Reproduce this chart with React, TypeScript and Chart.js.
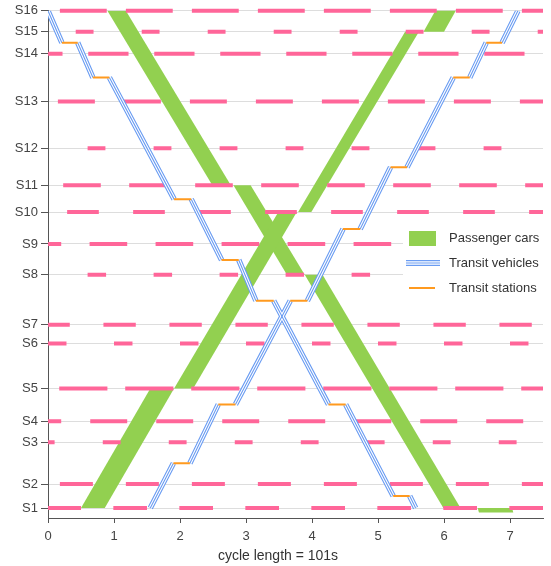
import React, { useEffect, useRef } from 'react';
import { Chart, registerables } from 'chart.js';

Chart.register(...registerables);

const FONT = '"Liberation Sans", Arial, Helvetica, sans-serif';

// Stations (signalised intersections) and their positions along the corridor
const stationNames = ['S1', 'S2', 'S3', 'S4', 'S5', 'S6', 'S7', 'S8', 'S9', 'S10', 'S11', 'S12', 'S13', 'S14', 'S15', 'S16'];
const stationPos = [0, 24, 66, 87, 120, 165, 184, 234, 265, 297, 324, 361, 408, 456, 478, 499];

// Red phase per station: offset and duration, in cycles (cycle length = 101 s)
const redOffset = [-0.01, 0.18, 0.83, 0.64, 0.17, 0.0, 0.84, 0.6, 0.63, 0.29, 0.23, 0.6, 0.15, 0.61, 0.42, 0.18];
const redLength = [0.51, 0.5, 0.27, 0.56, 0.73, 0.28, 0.49, 0.28, 0.57, 0.48, 0.57, 0.27, 0.56, 0.61, 0.27, 0.71];

const xTicks = [0, 1, 2, 3, 4, 5, 6, 7];
const X_MAX = 7.5;
const Y_MIN = -10;
const Y_MAX = 499;

// Passenger car green band, inbound (S1 -> S16)
const upBandYBottom = [0, 120, 297, 478];
const upBandYTop = [120, 297, 478, 504];
const upBandBottomLeft = [0.5, 1.91, 3.79, 5.69];
const upBandBottomRight = [0.86, 2.2, 3.99, 6.0];
const upBandTopLeft = [1.55, 3.49, 5.41, 5.91];
const upBandTopRight = [1.91, 3.77, 5.62, 6.22];

// Passenger car green band, outbound (S16 -> S1)
const downBandYTop = [499, 324, 234, 0];
const downBandYBottom = [324, 234, 0, -4.5];
const downBandTopLeft = [0.9, 2.81, 3.89, 6.51];
const downBandTopRight = [1.18, 3.07, 4.16, 7.03];
const downBandBottomLeft = [2.49, 3.62, 5.99, 6.53];
const downBandBottomRight = [2.77, 3.89, 6.25, 7.05];

// Transit vehicle, outbound
const downStart = { x: 0, y: 499 };
const downDwellY = [467, 432, 310, 249, 208, 104, 12];
const downDwellIn = [0.21, 0.68, 1.91, 2.63, 3.15, 4.25, 5.23];
const downDwellOut = [0.45, 0.93, 2.17, 2.89, 3.42, 4.51, 5.48];
const downEnd = { x: 5.57, y: 0 };

// Transit vehicle, inbound
const upStart = { x: 1.55, y: 0 };
const upDwellY = [45, 104, 208, 280, 342, 432, 467];
const upDwellIn = [1.9, 2.58, 3.67, 4.47, 5.19, 6.14, 6.64];
const upDwellOut = [2.15, 2.84, 3.93, 4.73, 5.44, 6.39, 6.88];
const upEnd = { x: 7.12, y: 499 };

const GREEN = '#92d050';
const RED = '#ff6699';
const BLUE = '#6a9cf2';
const ORANGE = '#ff9a1f';

type P = { x: number; y: number | null };

function redBars(): P[] {
  const pts: P[] = [];
  stationPos.forEach((y, i) => {
    for (let k = -1; k <= 8; k++) {
      const s = Math.max(redOffset[i] + k, 0);
      const e = Math.min(redOffset[i] + k + redLength[i], X_MAX);
      if (e > s) {
        pts.push({ x: s, y }, { x: e, y }, { x: e, y: null });
      }
    }
  });
  return pts;
}

function vehiclePath(start: P, dy: number[], din: number[], dout: number[], end: P): P[] {
  const pts: P[] = [start];
  dy.forEach((y, i) => {
    pts.push({ x: din[i], y }, { x: din[i], y: null }, { x: dout[i], y });
  });
  pts.push(end);
  return pts;
}

function dwellPath(dy: number[], din: number[], dout: number[]): P[] {
  const pts: P[] = [];
  dy.forEach((y, i) => {
    pts.push({ x: din[i], y }, { x: dout[i], y }, { x: dout[i], y: null });
  });
  return pts;
}

const common = {
  pointRadius: 0,
  pointHoverRadius: 0,
  tension: 0,
  spanGaps: false,
};

function bandDatasets(): any[] {
  const ds: any[] = [];
  upBandYBottom.forEach((yb, i) => {
    const yt = upBandYTop[i];
    ds.push({
      ...common,
      data: [
        { x: upBandBottomLeft[i], y: yb },
        { x: upBandBottomRight[i], y: yb },
        { x: upBandTopRight[i], y: yt },
        { x: upBandTopLeft[i], y: yt },
        { x: upBandBottomLeft[i], y: yb },
      ],
      borderWidth: 0,
      borderColor: GREEN,
      backgroundColor: GREEN,
      fill: 'shape',
      clip: false,
      order: 10,
    });
  });
  downBandYTop.forEach((yt, i) => {
    const yb = downBandYBottom[i];
    ds.push({
      ...common,
      data: [
        { x: downBandTopLeft[i], y: yt },
        { x: downBandTopRight[i], y: yt },
        { x: downBandBottomRight[i], y: yb },
        { x: downBandBottomLeft[i], y: yb },
        { x: downBandTopLeft[i], y: yt },
      ],
      borderWidth: 0,
      borderColor: GREEN,
      backgroundColor: GREEN,
      fill: 'shape',
      clip: false,
      order: 10,
    });
  });
  return ds;
}

function vehicleDatasets(): any[] {
  const paths = [
    vehiclePath(downStart, downDwellY, downDwellIn, downDwellOut, downEnd),
    vehiclePath(upStart, upDwellY, upDwellIn, upDwellOut, upEnd),
  ];
  const layers = [
    { color: BLUE, width: 5.5, order: 6 },
    { color: '#ffffff', width: 3.3, order: 5 },
    { color: BLUE, width: 1.1, order: 4 },
  ];
  const ds: any[] = [];
  layers.forEach((l) => {
    paths.forEach((p) => {
      ds.push({
        ...common,
        data: p,
        borderColor: l.color,
        borderWidth: l.width,
        borderCapStyle: 'butt',
        fill: false,
        order: l.order,
      });
    });
  });
  return ds;
}

const overlayPlugin = {
  id: 'overlay',
  afterDatasetsDraw(chart: any) {
    const ctx = chart.ctx as CanvasRenderingContext2D;
    ctx.save();
    // legend
    ctx.fillStyle = '#ffffff';
    ctx.fillRect(403, 221, 146, 78);
    ctx.fillStyle = GREEN;
    ctx.fillRect(409, 231, 27, 15);
    const drawLine = (x1: number, x2: number, y: number, c: string, w: number) => {
      ctx.beginPath();
      ctx.strokeStyle = c;
      ctx.lineWidth = w;
      ctx.lineCap = 'butt';
      ctx.moveTo(x1, y);
      ctx.lineTo(x2, y);
      ctx.stroke();
    };
    drawLine(406, 440, 263, BLUE, 6);
    drawLine(406, 440, 263, '#ffffff', 3.6);
    drawLine(406, 440, 263, BLUE, 1.2);
    drawLine(409, 435, 288, ORANGE, 2);
    ctx.fillStyle = '#333333';
    ctx.font = `13px ${FONT}`;
    ctx.textAlign = 'left';
    ctx.textBaseline = 'middle';
    ctx.fillText('Passenger cars', 449, 238);
    ctx.fillText('Transit vehicles', 449, 263);
    ctx.fillText('Transit stations', 449, 288);
    ctx.restore();
  },
  afterDraw(chart: any) {
    const ctx = chart.ctx as CanvasRenderingContext2D;
    ctx.save();
    ctx.fillStyle = '#333333';
    ctx.font = `14px ${FONT}`;
    ctx.textAlign = 'center';
    ctx.textBaseline = 'alphabetic';
    ctx.fillText('cycle length = 101s', 278, 560);
    ctx.restore();
  },
};

export default function App() {
  const ref = useRef<HTMLCanvasElement | null>(null);
  useEffect(() => {
    if (!ref.current) return;
    const datasets: any[] = [
      ...bandDatasets(),
      {
        ...common,
        data: redBars(),
        borderColor: RED,
        borderWidth: 4,
        borderCapStyle: 'butt',
        fill: false,
        clip: false,
        order: 8,
      },
      ...vehicleDatasets(),
      {
        ...common,
        data: dwellPath(downDwellY, downDwellIn, downDwellOut),
        borderColor: ORANGE,
        borderWidth: 2,
        borderCapStyle: 'butt',
        fill: false,
        order: 1,
      },
      {
        ...common,
        data: dwellPath(upDwellY, upDwellIn, upDwellOut),
        borderColor: ORANGE,
        borderWidth: 2,
        borderCapStyle: 'butt',
        fill: false,
        order: 1,
      },
    ];
    const chart = new Chart(ref.current, {
      type: 'line',
      data: { datasets },
      options: {
        responsive: false,
        devicePixelRatio: 1,
        animation: false,
        events: [],
        layout: { padding: { top: 9, right: 8, bottom: 0, left: 0 } },
        plugins: {
          legend: { display: false },
          tooltip: { enabled: false },
          title: { display: false },
        },
        scales: {
          x: {
            type: 'linear',
            min: 0,
            max: X_MAX,
            afterBuildTicks: (s: any) => {
              s.ticks = xTicks.map((v) => ({ value: v }));
            },
            ticks: {
              font: { family: FONT, size: 13 },
              color: '#444444',
              padding: 6,
              maxRotation: 0,
              autoSkip: false,
            },
            grid: { drawOnChartArea: false, drawTicks: true, tickLength: 5, tickColor: '#555555', tickWidth: 1 },
            border: { color: '#555555', width: 1 },
            afterFit: (s: any) => {
              s.height = 48;
            },
          },
          y: {
            type: 'linear',
            min: Y_MIN,
            max: Y_MAX,
            afterBuildTicks: (s: any) => {
              s.ticks = stationPos.map((v) => ({ value: v }));
            },
            ticks: {
              font: { family: FONT, size: 13 },
              color: '#444444',
              padding: 3,
              autoSkip: false,
              callback: (v: any) => {
                const i = stationPos.indexOf(Number(v));
                return i >= 0 ? stationNames[i] : '';
              },
            },
            grid: { color: '#dddddd', lineWidth: 1, tickLength: 7, tickColor: '#555555' },
            border: { color: '#555555', width: 1 },
            afterFit: (s: any) => {
              s.width = 48;
            },
          },
        },
      } as any,
      plugins: [overlayPlugin],
    });
    return () => chart.destroy();
  }, []);
  return (
    <div style={{ position: 'absolute', left: 0, top: 0, width: 551, height: 566 }}>
      <canvas ref={ref} width={551} height={566} style={{ display: 'block', width: 551, height: 566 }} />
    </div>
  );
}
